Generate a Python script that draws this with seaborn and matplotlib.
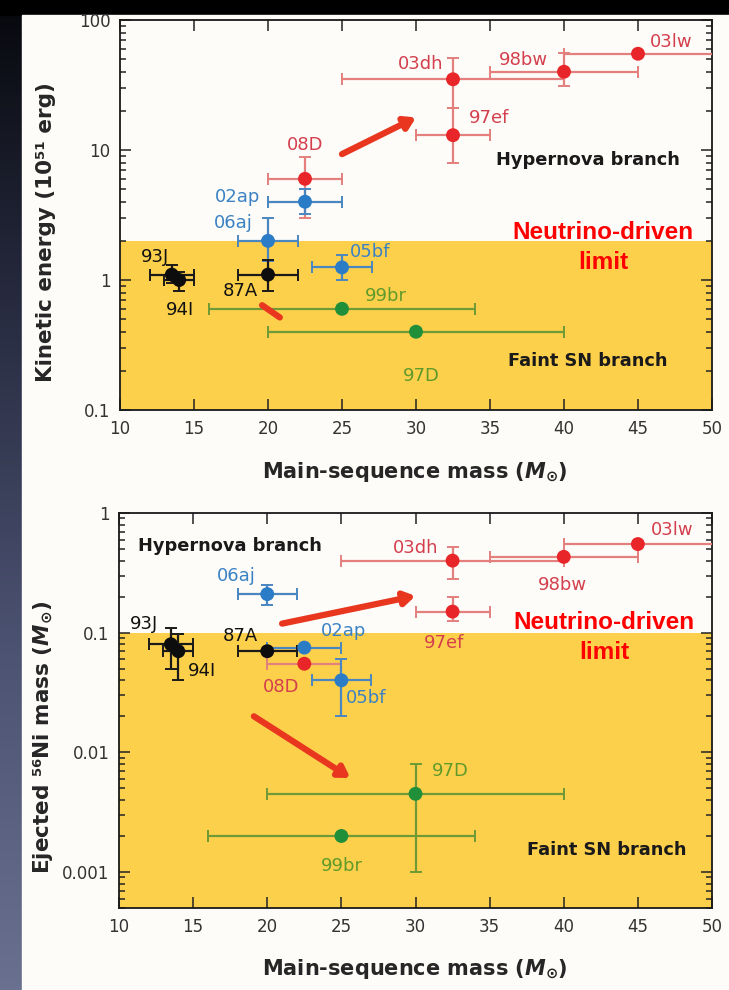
import numpy as np
import pandas as pd
import matplotlib
matplotlib.use("Agg")
import matplotlib.pyplot as plt
import seaborn as sns
from matplotlib.ticker import FixedLocator, FixedFormatter, LogLocator, NullFormatter, NullLocator

# ---------------------------------------------------------------- data
names = ["03lw", "98bw", "03dh", "97ef", "08D", "02ap", "06aj",
         "87A", "05bf", "93J", "94I", "99br", "97D"]
group = ["red", "red", "red", "red", "red", "blue", "blue",
         "black", "blue", "black", "black", "green", "green"]

mass = [45, 40, 32.5, 32.5, 22.5, 22.5, 20, 20, 25, 13.5, 14, 25, 30]
mass_low = [40, 35, 25, 30, 20, 20, 18, 18, 23, 12, 13, 16, 20]
mass_high = [55, 45, 40, 35, 25, 25, 22, 22, 27, 15, 15, 34, 40]

energy = [55, 40, 35, 13, 6, 4, 2, 1.1, 1.25, 1.1, 1.0, 0.6, 0.4]
energy_low = [55, 31, 21, 8, 3.0, 3.2, 1.4, 0.82, 1.0, 0.95, 0.82, 0.6, 0.4]
energy_high = [55, 56, 51, 21, 8.8, 5.0, 3.0, 1.43, 1.55, 1.3, 1.15, 0.6, 0.4]

nickel = [0.55, 0.43, 0.40, 0.15, 0.055, 0.075, 0.21, 0.07, 0.04, 0.08, 0.07, 0.002, 0.0045]
nickel_low = [0.55, 0.43, 0.28, 0.124, 0.055, 0.075, 0.17, 0.07, 0.02, 0.05, 0.04, 0.002, 0.001]
nickel_high = [0.55, 0.43, 0.52, 0.20, 0.055, 0.075, 0.25, 0.07, 0.06, 0.11, 0.098, 0.002, 0.008]

energy_limit = 2.0
nickel_limit = 0.1

mass_ticks = [10, 15, 20, 25, 30, 35, 40, 45, 50]
energy_ticks = [0.1, 1, 10, 100]
energy_tick_labels = ["0.1", "1", "10", "100"]
nickel_ticks = [0.001, 0.01, 0.1, 1]
nickel_tick_labels = ["0.001", "0.01", "0.1", "1"]

# trend arrows (start, end) in data units
energy_arrows = [((25, 9.3), (30, 17.8), True), ((19.6, 0.64), (20.8, 0.515), False)]
nickel_arrows = [((21, 0.119), (30, 0.203), True), ((19.1, 0.02), (25.6, 0.0061), True)]

# ---------------------------------------------------------------- styling
marker_colors = {"red": "#e8262a", "blue": "#2b7cc6", "black": "#0d0d0d", "green": "#1f8f3a"}
bar_colors = {"red": "#e3807e", "blue": "#4a86c0", "black": "#1a1a1a", "green": "#6f9a35"}
label_colors = {"red": "#d43f4e", "blue": "#3b82c4", "black": "#111111", "green": "#5f9a2a"}
yellow = "#fdd04c"

# label offsets (pixels) relative to each point
energy_offsets = {"03lw": (33, 12), "98bw": (-41, 12), "03dh": (-32, 15), "97ef": (36, 17),
                  "08D": (0, 34), "02ap": (-67, 5), "06aj": (-35, 18), "87A": (-28, -16),
                  "05bf": (28, 15), "93J": (-17, 18), "94I": (1, -30), "99br": (44, 13),
                  "97D": (5, -44)}
nickel_offsets = {"03lw": (34, 14), "98bw": (-1, -28), "03dh": (-37, 13), "97ef": (-9, -31),
                  "08D": (-23, -23), "02ap": (39, 17), "06aj": (-31, 18), "87A": (-27, 15),
                  "05bf": (25, -18), "93J": (-27, 20), "94I": (24, -20), "99br": (0, -30),
                  "97D": (35, 23)}

sns.set_theme(style="ticks")
plt.rcParams["font.family"] = ["DejaVu Sans"]
plt.rcParams["mathtext.fontset"] = "custom"
plt.rcParams["mathtext.it"] = "DejaVu Sans:bold:italic"
plt.rcParams["mathtext.rm"] = "DejaVu Sans:bold"

df = pd.DataFrame({"name": names, "group": group, "mass": mass,
                   "mass_low": mass_low, "mass_high": mass_high,
                   "energy": energy, "energy_low": energy_low, "energy_high": energy_high,
                   "nickel": nickel, "nickel_low": nickel_low, "nickel_high": nickel_high})

fig = plt.figure(figsize=(7.29, 9.9), dpi=100)
fig.patch.set_facecolor("#08090f")

# slide backdrop: dark gradient strip on the left, white panel for the figure
bg = fig.add_axes([0, 0, 1, 1], zorder=-10)
grad = np.linspace(0, 1, 256).reshape(-1, 1)
bg.imshow(grad, aspect="auto", extent=[0, 1, 0, 1], origin="upper",
          cmap=matplotlib.colors.LinearSegmentedColormap.from_list(
              "slide", ["#07080d", "#2a2e44", "#4d5473", "#6a7090"]))
bg.add_patch(plt.Rectangle((0, 1 - 15 / 990), 1, 15 / 990, transform=bg.transAxes, color="#000000"))
bg.add_patch(plt.Rectangle((22 / 729, 0), 1, 1 - 15 / 990, transform=bg.transAxes,
                           color="#fdfcf8"))
bg.set_xlim(0, 1)
bg.set_ylim(0, 1)
bg.axis("off")

W, H = 729, 990
ax1 = fig.add_axes([120 / W, 1 - 410 / H, 592 / W, 390 / H])
ax2 = fig.add_axes([119 / W, 1 - 908 / H, 593 / W, 395 / H])


def draw_panel(ax, ycol, ylo, yhi, limit, ymin, ymax, yticks, ytlabels, offsets, arrows):
    ax.set_facecolor("#fdfcf8")
    ax.set_yscale("log")
    ax.set_xlim(10, 50)
    ax.set_ylim(ymin, ymax)
    ax.axhspan(ymin, limit, color=yellow, zorder=0, lw=0)

    for _, r in df.iterrows():
        ax.errorbar(r["mass"], r[ycol],
                    xerr=[[r["mass"] - r["mass_low"]], [r["mass_high"] - r["mass"]]],
                    yerr=[[r[ycol] - r[ylo]], [r[yhi] - r[ycol]]],
                    fmt="none", ecolor=bar_colors[r["group"]], elinewidth=1.6,
                    capsize=4, capthick=1.4, zorder=3)

    sns.scatterplot(data=df, x="mass", y=ycol, hue="group", palette=marker_colors,
                    s=100, edgecolor="none", legend=False, ax=ax, zorder=5)

    for _, r in df.iterrows():
        dx, dy = offsets[r["name"]]
        ax.annotate(r["name"], (r["mass"], r[ycol]), xytext=(dx, dy),
                    textcoords="offset pixels", ha="center", va="center",
                    fontsize=13, color=label_colors[r["group"]], zorder=6)

    for (x0, y0), (x1, y1), head in arrows:
        style = "-|>,head_length=0.45,head_width=0.28" if head else "-"
        ax.annotate("", xy=(x1, y1), xytext=(x0, y0),
                    arrowprops=dict(arrowstyle=style, color="#e8361f", lw=4.5,
                                    shrinkA=0, shrinkB=0, mutation_scale=14),
                    zorder=6)

    ax.xaxis.set_major_locator(FixedLocator(mass_ticks))
    ax.xaxis.set_minor_locator(NullLocator())
    ax.yaxis.set_major_locator(FixedLocator(yticks))
    ax.yaxis.set_major_formatter(FixedFormatter(ytlabels))
    ax.yaxis.set_minor_locator(LogLocator(base=10, subs=np.arange(2, 10)))
    ax.yaxis.set_minor_formatter(NullFormatter())
    ax.tick_params(which="both", direction="in", top=True, right=True,
                   color="#222222", width=1.1)
    ax.tick_params(which="major", length=8, labelsize=12, labelcolor="#333333", pad=7)
    ax.tick_params(which="minor", length=4)
    for s in ax.spines.values():
        s.set_color("#1a1a1a")
        s.set_linewidth(1.3)
    ax.set_xlabel("Main-sequence mass ($M_{\\odot}$)", fontsize=15, fontweight="bold")


draw_panel(ax1, "energy", "energy_low", "energy_high", energy_limit, 0.1, 100,
           energy_ticks, energy_tick_labels, energy_offsets, energy_arrows)
draw_panel(ax2, "nickel", "nickel_low", "nickel_high", nickel_limit, 0.0005, 1,
           nickel_ticks, nickel_tick_labels, nickel_offsets, nickel_arrows)

ax1.set_ylabel("Kinetic energy (10\u2075\u00b9 erg)", fontsize=15.5, fontweight="bold")
ax2.set_ylabel("Ejected \u2075\u2076Ni mass ($M_{\\odot}$)", fontsize=15.5, fontweight="bold")
ax1.yaxis.set_label_coords(-0.108, 0.456)
ax2.yaxis.set_label_coords(-0.108, 0.433)
ax1.xaxis.set_label_coords(0.498, -0.128)
ax2.xaxis.set_label_coords(0.498, -0.125)

branch_kw = dict(fontsize=12.8, fontweight="bold", color="#1a1a1a", ha="center", va="center")
limit_kw = dict(fontsize=17.5, fontweight="bold", color="#ff0000", ha="center", va="center",
                family=["Liberation Sans", "DejaVu Sans"])

ax1.text(0.79, 0.641, "Hypernova branch", transform=ax1.transAxes, **branch_kw)
ax1.text(0.79, 0.126, "Faint SN branch", transform=ax1.transAxes, **branch_kw)
ax1.text(0.816, 0.454, "Neutrino-driven", transform=ax1.transAxes, **limit_kw)
ax1.text(0.816, 0.377, "limit", transform=ax1.transAxes, **limit_kw)

ax2.text(0.187, 0.916, "Hypernova branch", transform=ax2.transAxes, **branch_kw)
ax2.text(0.823, 0.147, "Faint SN branch", transform=ax2.transAxes, **branch_kw)
ax2.text(0.818, 0.724, "Neutrino-driven", transform=ax2.transAxes, **limit_kw)
ax2.text(0.818, 0.646, "limit", transform=ax2.transAxes, **limit_kw)

fig.savefig("out.png", dpi=100, facecolor=fig.get_facecolor())
